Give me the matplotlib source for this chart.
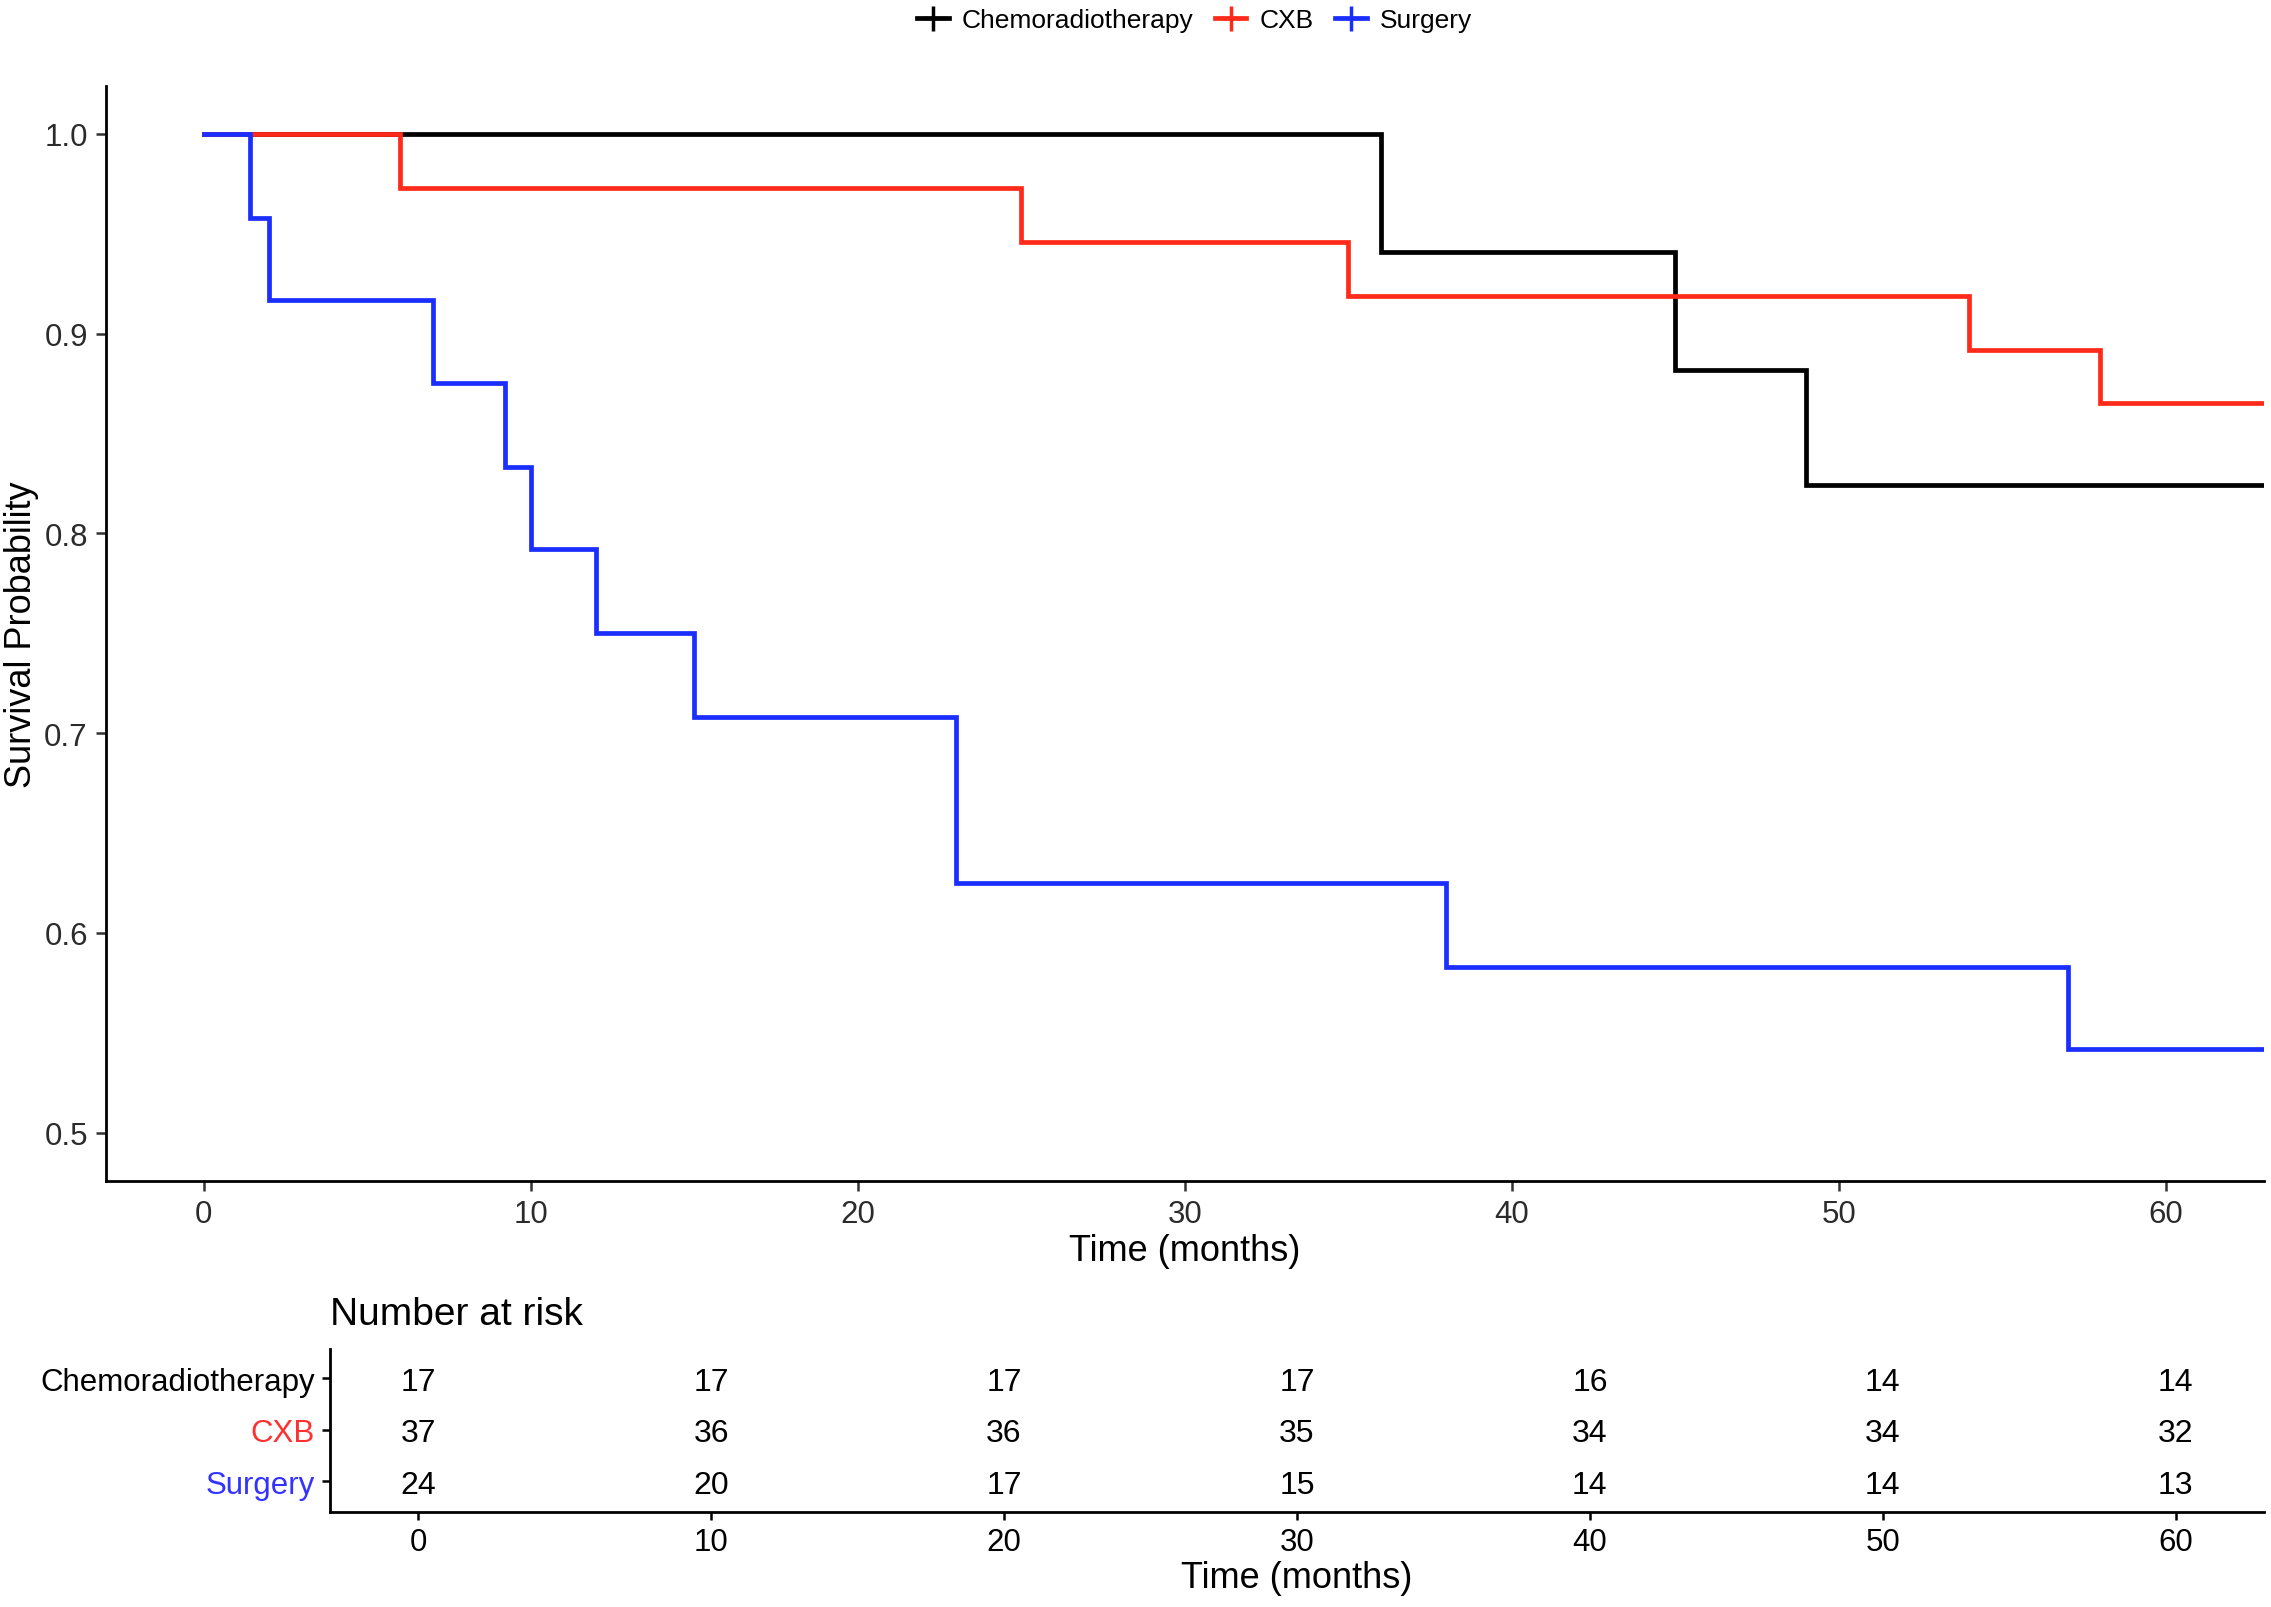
import matplotlib
matplotlib.use("Agg")
import matplotlib.pyplot as plt
from matplotlib.lines import Line2D

plt.rcParams['font.family'] = ['Liberation Sans', 'DejaVu Sans']

# survival curves (event times in months, survival after each step)
groups = ["Chemoradiotherapy", "CXB", "Surgery"]
colors = ["#000000", "#FF2A1A", "#1A2EFF"]
label_colors = ["#000000", "#FF3030", "#3333FF"]

chemo_t = [0, 36, 45, 49, 63]
chemo_s = [1.0, 0.941, 0.882, 0.824, 0.824]

cxb_t = [0, 6, 25, 35, 54, 58, 63]
cxb_s = [1.0, 0.973, 0.946, 0.919, 0.892, 0.865, 0.865]

surg_t = [0, 1.4, 2, 7, 9.2, 10, 12, 15, 23, 38, 57, 63]
surg_s = [1.0, 0.958, 0.917, 0.875, 0.833, 0.792, 0.750, 0.708, 0.625, 0.583, 0.542, 0.542]

# number at risk table
risk_times = [0, 10, 20, 30, 40, 50, 60]
risk_chemo = [17, 17, 17, 17, 16, 14, 14]
risk_cxb = [37, 36, 36, 35, 34, 34, 32]
risk_surg = [24, 20, 17, 15, 14, 14, 13]

curves = [(chemo_t, chemo_s), (cxb_t, cxb_s), (surg_t, surg_s)]
risks = [risk_chemo, risk_cxb, risk_surg]

fig = plt.figure(figsize=(22.71, 16.08), dpi=100)

# ---- main KM plot
ax = fig.add_axes([0.0466, 0.2652, 0.9502, 0.6808])
for (t, s), c in zip(curves, colors):
    ax.step(t, s, where='post', color=c, lw=3.4, solid_joinstyle='miter')

ax.set_xlim(-3, 63)
ax.set_ylim(0.476, 1.024)
ax.set_xticks([0, 10, 20, 30, 40, 50, 60])
ax.set_yticks([0.5, 0.6, 0.7, 0.8, 0.9, 1.0])
ax.set_yticklabels(["0.5", "0.6", "0.7", "0.8", "0.9", "1.0"])
for side in ['top', 'right']:
    ax.spines[side].set_visible(False)
for side in ['left', 'bottom']:
    ax.spines[side].set_linewidth(2)
ax.tick_params(axis='both', length=7, width=1.8, color='#333333',
               labelsize=22.5, labelcolor='#2b2b2b', pad=6)
ax.set_xlabel("Time (months)", fontsize=26, labelpad=3)
ax.set_ylabel("Survival Probability", fontsize=26, labelpad=4)

# legend on top
handles = [Line2D([0], [0], color=c, lw=3.4, marker='+', markersize=18,
                  markeredgewidth=2.5) for c in colors]
fig.legend(handles, groups, loc='center', bbox_to_anchor=(0.526, 0.987),
           ncol=3, frameon=False, fontsize=19, handlelength=1.2,
           handletextpad=0.5, columnspacing=0.8)

# ---- risk table
ax2 = fig.add_axes([0.1454, 0.059, 0.8514, 0.1017])
rows = [3, 2, 1]
for r, vals in zip(rows, risks):
    for t, v in zip(risk_times, vals):
        ax2.text(t, r, str(v), ha='center', va='center_baseline', fontsize=23)

ax2.set_xlim(-3, 63)
ax2.set_ylim(0.40, 3.58)
ax2.set_xticks(risk_times)
ax2.set_yticks(rows)
ax2.set_yticklabels(groups)
for lab, c in zip(ax2.get_yticklabels(), label_colors):
    lab.set_color(c)
for side in ['top', 'right']:
    ax2.spines[side].set_visible(False)
for side in ['left', 'bottom']:
    ax2.spines[side].set_linewidth(2)
ax2.tick_params(axis='both', length=6, width=1.8, labelsize=22.5, pad=5)
ax2.set_xlabel("Time (months)", fontsize=26, labelpad=2)
fig.text(0.1454, 0.182, "Number at risk", fontsize=28, ha='left', va='center')

fig.savefig("out.png", dpi=100)
